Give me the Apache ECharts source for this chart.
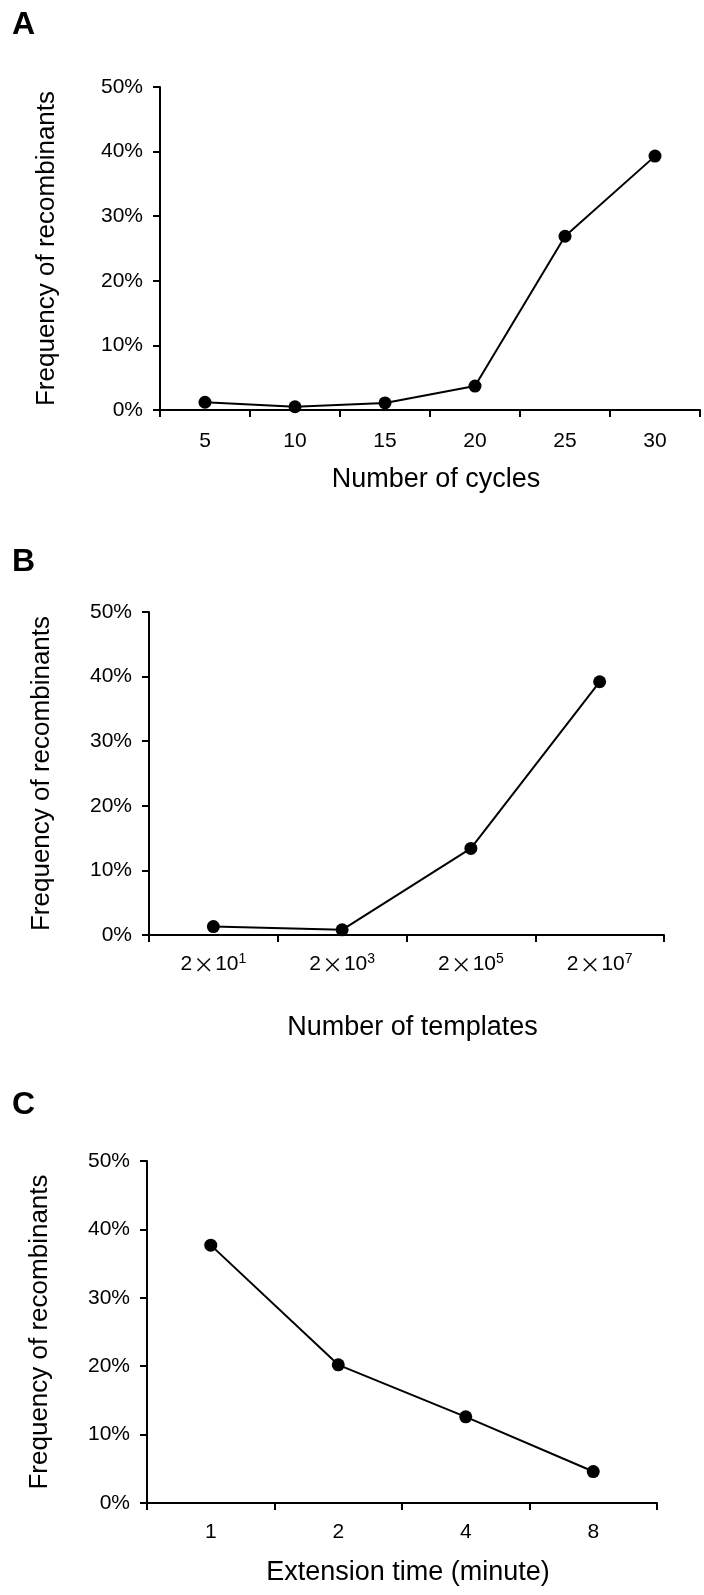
<!DOCTYPE html>
<html>
<head>
<meta charset="utf-8">
<script src="https://cdn.jsdelivr.net/npm/echarts@6/dist/echarts.min.js"></script>
<style>
html,body{margin:0;padding:0;background:#fff;}
#c{width:704px;height:1595px;}
</style>
</head>
<body>
<div id="c"></div>
<script>
// Panel A
const catA = ['5', '10', '15', '20', '25', '30'];
const valA = [1.2, 0.5, 1.1, 3.7, 26.9, 39.3];
// Panel B
const catB = ['2×10^1', '2×10^3', '2×10^5', '2×10^7'];
const valB = [1.3, 0.8, 13.4, 39.2];
// Panel C
const catC = ['1', '2', '4', '8'];
const valC = [37.7, 20.2, 12.6, 4.6];

const yTicks = [0, 10, 20, 30, 40, 50];
const yTitle = 'Frequency of recombinants';
const xTitles = ['Number of cycles', 'Number of templates', 'Extension time (minute)'];
const panelLetters = ['A', 'B', 'C'];

const FONT = 'Liberation Sans, Arial, sans-serif';

const grids = [
  {left: 160, top: 87, width: 540, height: 323},
  {left: 149, top: 612, width: 515, height: 323},
  {left: 147, top: 1161, width: 510, height: 342}
];
const xLabelMargin = [21, 17, 19];
const xNameGap = [56, 79, 56];
const yNameGap = [100, 94, 94];

function xFormatter(v) {
  if (v.indexOf('^') >= 0) {
    const p = v.split('^');
    const base = p[0].split('×');
    return base[0] + '{x|×}' + base[1] + '{sup|' + p[1] + '}';
  }
  return v;
}

const cats = [catA, catB, catC];
const vals = [valA, valB, valC];

const chart = echarts.init(document.getElementById('c'), null, {renderer: 'canvas'});
const option = {
  backgroundColor: '#fff',
  animation: false,
  title: panelLetters.map((t, i) => ({
    text: t,
    left: 7,
    top: [4, 541, 1084][i],
    textStyle: {fontFamily: FONT, fontWeight: 'bold', fontSize: 32, color: '#000'}
  })),
  grid: grids.map(g => Object.assign({outerBoundsMode: 'none', containLabel: false}, g)),
  xAxis: cats.map((c, i) => ({
    type: 'category',
    gridIndex: i,
    data: c,
    boundaryGap: true,
    axisLine: {show: true, lineStyle: {color: '#000', width: 2}},
    axisTick: {show: true, length: 7, inside: false, lineStyle: {color: '#000', width: 2}},
    axisLabel: {
      color: '#000', fontFamily: FONT, fontSize: 21, margin: xLabelMargin[i],
      interval: 0,
      formatter: xFormatter,
      rich: {
        x: {fontFamily: 'Noto Sans CJK SC', fontSize: 21, color: '#000', padding: [0, 1, 0, 1]},
        sup: {fontFamily: FONT, fontSize: 14, color: '#000', verticalAlign: 'top', padding: [0, 0, 10, 0]}
      }
    },
    splitLine: {show: false},
    name: xTitles[i],
    nameLocation: 'middle',
    nameGap: xNameGap[i],
    nameTextStyle: {color: '#000', fontFamily: FONT, fontSize: 27, padding: [0, 0, 0, 12]}
  })),
  yAxis: cats.map((c, i) => ({
    type: 'value',
    gridIndex: i,
    min: yTicks[0],
    max: yTicks[yTicks.length - 1],
    interval: 10,
    axisLine: {show: true, lineStyle: {color: '#000', width: 2}},
    axisTick: {show: true, length: 7, inside: false, lineStyle: {color: '#000', width: 2}},
    axisLabel: {color: '#000', fontFamily: FONT, fontSize: 21, margin: 17, formatter: '{value}%'},
    splitLine: {show: false},
    name: yTitle,
    nameLocation: 'middle',
    nameGap: yNameGap[i],
    nameRotate: 90,
    nameTextStyle: {color: '#000', fontFamily: FONT, fontSize: 26}
  })),
  series: vals.map((v, i) => ({
    type: 'line',
    xAxisIndex: i,
    yAxisIndex: i,
    data: v,
    symbol: 'circle',
    symbolSize: 13,
    itemStyle: {color: '#000'},
    lineStyle: {color: '#000', width: 2},
    z: 3
  }))
};
chart.setOption(option);
</script>
</body>
</html>
